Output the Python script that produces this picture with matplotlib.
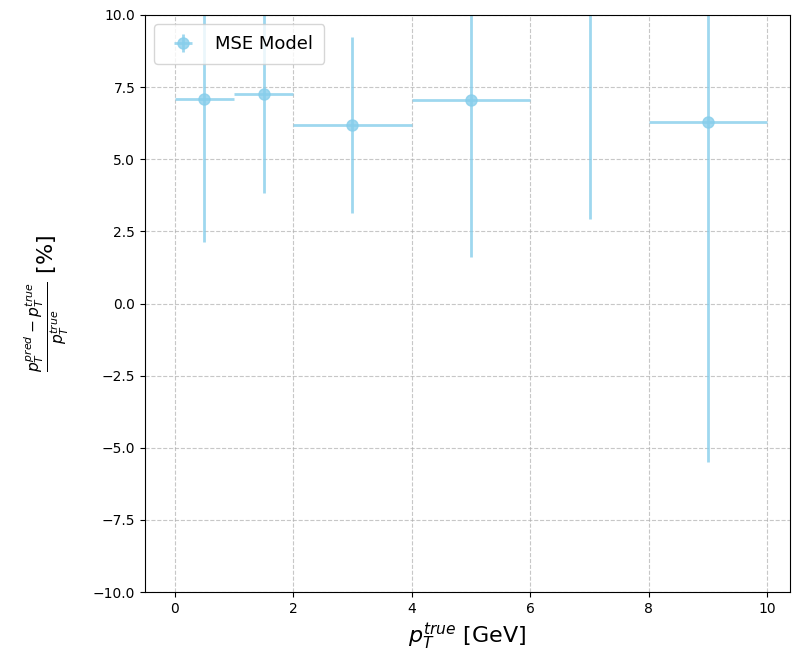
import numpy as np
import matplotlib.pyplot as plt

# pT bins (GeV)
bin_lo = [0, 1, 2, 4, 6, 8]
bin_hi = [1, 2, 4, 6, 8, 10]

# relative resolution per bin (%) and its spread
mean_res = [7.09, 7.27, 6.2, 7.05, 11.5, 6.29]
std_res = [4.96, 3.44, 3.05, 5.44, 8.57, 11.78]

centers = [(a + b) / 2 for a, b in zip(bin_lo, bin_hi)]
half_w = [(b - a) / 2 for a, b in zip(bin_lo, bin_hi)]

fig = plt.figure(figsize=(7.92, 6.63), dpi=100)
ax = fig.add_axes([145 / 792, 1 - 592 / 663, 645 / 792, 577 / 663])

ax.errorbar(centers, mean_res, xerr=half_w, yerr=std_res, fmt='o',
            color='skyblue', alpha=0.8, markersize=8, elinewidth=2,
            label='MSE Model')

ax.set_ylim(-10, 10)
ax.set_xlim(-0.5, 10.38)
ax.set_xlabel(r'$p_T^{true}$ [GeV]', fontsize=16)
ax.set_ylabel(r'$\frac{p_T^{pred} - p_T^{true}}{p_T^{true}}$ [%]', fontsize=16,
              labelpad=16)
ax.grid(True, linestyle='--', alpha=0.7)
ax.legend(loc='upper left', fontsize=13, borderpad=0.6)

fig.savefig('out.png', dpi=100)
